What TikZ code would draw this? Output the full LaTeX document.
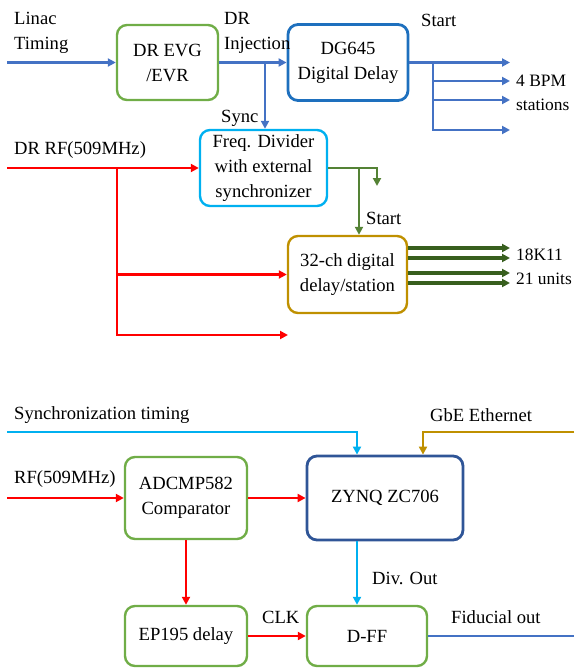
\documentclass[tikz,border=0pt]{standalone}
\usepackage{fontspec}
\setmainfont{Liberation Serif}
\usetikzlibrary{arrows.meta}

\definecolor{evgreen}{RGB}{112,173,71}
\definecolor{dgblue}{RGB}{30,112,190}
\definecolor{skyblue}{RGB}{0,176,240}
\definecolor{darkgold}{RGB}{191,144,0}
\definecolor{navyblue}{RGB}{47,85,151}
\definecolor{lineblue}{RGB}{68,114,196}
\definecolor{darkgreen}{RGB}{56,95,30}
\definecolor{midgreen}{RGB}{84,130,53}

\begin{document}
\begin{tikzpicture}[x=1pt,y=-1pt,
  font=\fontsize{18.6}{25}\selectfont,
  box/.style={draw,rounded corners=10pt,line width=2.4pt,align=center,inner sep=0pt},
  sig/.style={line width=2.6pt,-{Triangle[length=8pt,width=8pt]}},
  txt/.style={align=left,inner sep=0pt}]
  \useasboundingbox (0,0) rectangle (574,669);

  % upper part: injection timing chain
  \node[box,evgreen,text=black,minimum width=101pt,minimum height=75pt] (evg) at (167.5,62.5) {DR EVG\\/EVR};
  \node[box,dgblue,text=black,line width=2.8pt,minimum width=120pt,minimum height=76pt] (dg) at (348,62.5) {DG645\\Digital Delay};
  \node[box,skyblue,text=black,minimum width=127pt,minimum height=76pt] (div) at (263.5,168) {Freq. Divider\\with external\\synchronizer};
  \node[box,darkgold,text=black,minimum width=119pt,minimum height=77pt] (ch32) at (347.5,274.5) {32-ch digital\\delay/station};

  \coordinate (linin) at (7,62.5);
  \coordinate (syncbr) at (265,62.5);
  \coordinate (dgbr) at (433,62.5);
  \coordinate (bpm1) at (510,62.5);
  \coordinate (bpm4) at (510,130);
  \coordinate (rfin) at (7,168);
  \coordinate (rfbr) at (117,168);
  \coordinate (rfout) at (288,335);
  \coordinate (stbr) at (359,168);
  \coordinate (stout) at (377,186);

  \draw[sig,lineblue] (linin) -- (evg.west);
  \draw[sig,lineblue] (evg.east) -- (dg.west);
  \draw[sig,lineblue] (syncbr) -- (syncbr |- div.north);
  \draw[sig,lineblue] (dg.east) -- (bpm1);
  \foreach \y in {81,100}
    \draw[sig,lineblue] (433,\y) -- (510,\y);
  \draw[sig,lineblue] (dgbr) |- (bpm4);

  \draw[sig,red] (rfin) -- (div.west);
  \draw[sig,red] (rfbr) |- (ch32.west);
  \draw[sig,red] (rfbr) |- (rfout);

  \draw[sig,midgreen] (div.east) -| (stout);
  \draw[sig,midgreen] (stbr) -- (stbr |- ch32.north);
  \foreach \y in {248,258,273,283}
    \draw[sig,darkgreen,line width=3.6pt] (ch32.east |- 0,\y) -- (510,\y);

  \node[txt,anchor=west] (lblin) at (14,33) {Linac\\Timing};
  \node[txt,anchor=west] (lbinj) at (224,33) {DR\\Injection};
  \node[txt,anchor=west] (lbsync) at (221,118) {Sync};
  \node[txt,anchor=west] (lbst1) at (421,20) {Start};
  \node[txt,anchor=west,font=\fontsize{17.4}{24}\selectfont] (lbbpm) at (516,93) {4 BPM\\stations};
  \node[txt,anchor=west] (lbrf) at (14,150) {DR RF(509MHz)};
  \node[txt,anchor=west] (lbst2) at (366,218) {Start};
  \node[txt,anchor=west,font=\fontsize{17.4}{24}\selectfont] (lbunit) at (516,267) {18K11\\21 units};

  % lower part: fiducial generator
  \node[box,evgreen,text=black,minimum width=122pt,minimum height=82pt] (adc) at (186,498) {ADCMP582\\Comparator};
  \node[box,navyblue,text=black,line width=2.8pt,minimum width=156pt,minimum height=84pt] (zynq) at (385,498) {ZYNQ ZC706};
  \node[box,evgreen,text=black,minimum width=122pt,minimum height=60pt] (ep) at (186,636) {EP195 delay};
  \node[box,evgreen,text=black,minimum width=120pt,minimum height=60pt] (dff) at (367,636) {D-FF};

  \coordinate (syin) at (7,432);
  \coordinate (gbein) at (574,432);
  \coordinate (rf2in) at (7,498);
  \coordinate (fidout) at (574,636);

  \draw[sig,skyblue] (syin) -| ([xshift=-28pt]zynq.north);
  \draw[sig,darkgold] (gbein) -| ([xshift=38pt]zynq.north);
  \draw[sig,red] (rf2in) -- (adc.west);
  \draw[sig,red] (adc.east) -- (zynq.west);
  \draw[sig,red] (adc.south) -- (ep.north);
  \draw[sig,red] (ep.east) -- (dff.west);
  \draw[sig,skyblue] ([xshift=-28pt]zynq.south) -- ([xshift=-28pt]zynq.south |- dff.north);
  \draw[line width=2.6pt,lineblue] (dff.east) -- (fidout);

  \node[txt,anchor=west] (lbsyt) at (14,415) {Synchronization timing};
  \node[txt,anchor=west] (lbgbe) at (430,415) {GbE Ethernet};
  \node[txt,anchor=west] (lbrf2) at (14,479) {RF(509MHz)};
  \node[txt,anchor=west] (lbclk) at (262,617) {CLK};
  \node[txt,anchor=west] (lbdiv) at (372,578) {Div. Out};
  \node[txt,anchor=west] (lbfid) at (451,617) {Fiducial out};
\end{tikzpicture}
\end{document}
